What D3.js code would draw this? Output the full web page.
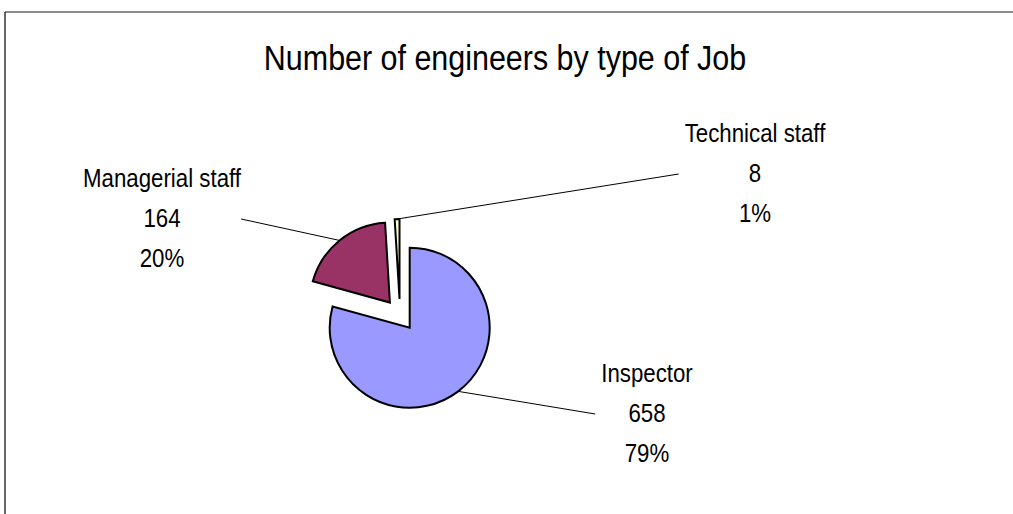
<!DOCTYPE html>
<html>
<head>
<meta charset="utf-8">
<script src="https://cdn.jsdelivr.net/npm/d3@7"></script>
<style>
  html, body { margin: 0; padding: 0; background: #fff; overflow: hidden; }
  svg { display: block; }
  text { font-family: "Liberation Sans Narrow", "Arial Narrow", "Liberation Sans", Arial, sans-serif; fill: #000; }
</style>
</head>
<body>
<svg id="chart" width="1013" height="514"></svg>
<script>
// Engineers by job type
const categories = ["Inspector", "Managerial staff", "Technical staff"];
const counts = [658, 164, 8];
const percentLabels = ["79%", "20%", "1%"];
const colors = ["#9999FF", "#993366", "#FFFFCC"];
const title = "Number of engineers by type of Job";

const W = 1013, H = 514;
const svg = d3.select("#chart");

// condensed look: squeeze the regular face horizontally
function narrowText(sel, x, y, size, sx) {
  return sel.append("text")
    .attr("transform", `translate(${x},${y}) scale(${sx},1)`)
    .attr("text-anchor", "middle")
    .style("font-size", size + "px");
}

// chart frame (runs off the right and bottom edges)
svg.append("line").attr("x1", 5).attr("y1", 12).attr("x2", W + 10).attr("y2", 12)
  .attr("stroke", "#666").attr("stroke-width", 1.6);
svg.append("line").attr("x1", 5).attr("y1", 12).attr("x2", 5).attr("y2", H + 10)
  .attr("stroke", "#000").attr("stroke-width", 1.2);

narrowText(svg, 505, 70, 35, 0.87).text(title);

const cx = 400, cy = 315, R = 80, explode = 16;

const pie = d3.pie().sort(null).value(d => d.value).startAngle(0).endAngle(2 * Math.PI);
const data = categories.map((c, i) => ({ name: c, value: counts[i], pct: percentLabels[i], color: colors[i] }));
const arcs = pie(data);
const arc = d3.arc().innerRadius(0).outerRadius(R);

function offset(a, dist) { return [Math.sin(a) * dist, -Math.cos(a) * dist]; }

arcs.forEach(a => {
  const mid = (a.startAngle + a.endAngle) / 2;
  const [dx, dy] = offset(mid, explode);
  a.dx = dx; a.dy = dy; a.mid = mid;
});

// label layout: center x and first baseline; side of the block the leader attaches to
const labelLayout = [
  { x: 647, y: 382, side: "left" },
  { x: 162, y: 187, side: "right" },
  { x: 755, y: 142, side: "left" }
];
const lineGap = 40;

const leadersG = svg.append("g");
const labelsG = svg.append("g");
arcs.forEach((a, i) => {
  const L = labelLayout[i];
  const g = labelsG.append("g");
  const lines = [a.data.name, String(a.data.value), a.data.pct];
  lines.forEach((t, k) => {
    narrowText(g, L.x, L.y + k * lineGap, 26.5, 0.84).text(t);
  });
  const bb = g.node().getBBox();
  const endX = L.side === "left" ? bb.x - 6 : bb.x + bb.width;
  const endY = L.y + lineGap - 8;
  const [ox, oy] = offset(a.mid, R);
  const sx = cx + a.dx + ox, sy = cy + a.dy + oy;
  leadersG.append("line")
    .attr("x1", sx).attr("y1", sy).attr("x2", endX).attr("y2", endY)
    .attr("stroke", "#000").attr("stroke-width", 1);
});

const pieG = svg.append("g").attr("transform", `translate(${cx},${cy})`);
pieG.selectAll("path")
  .data(arcs)
  .join("path")
  .attr("transform", d => `translate(${d.dx},${d.dy})`)
  .attr("d", arc)
  .attr("fill", d => d.data.color)
  .attr("stroke", "#000")
  .attr("stroke-width", 2)
  .attr("stroke-linejoin", "miter");
</script>
</body>
</html>
